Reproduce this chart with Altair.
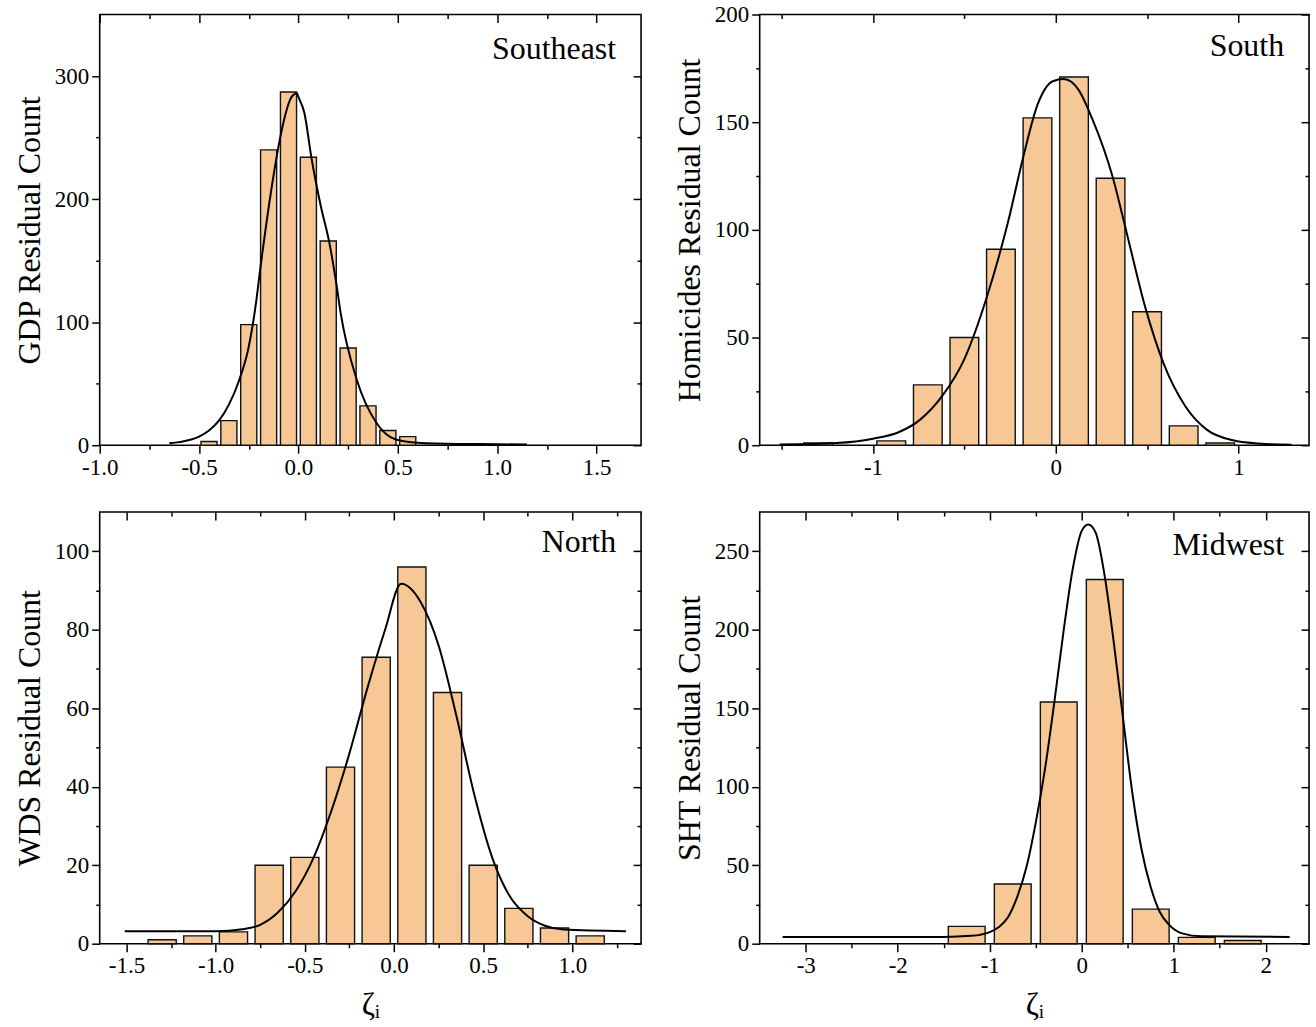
import altair as alt
import pandas as pd

FONT = "Liberation Serif"
FILL = "#F8C796"

# ---------------- data ----------------
# Southeast (GDP)
se_center = [-0.45, -0.35, -0.25, -0.15, -0.05, 0.05, 0.15, 0.25, 0.35, 0.45, 0.55]
se_count = [3, 20, 98, 240, 287, 234, 166, 79, 32, 12, 7]
se_curve_x = [-0.65, -0.6, -0.5, -0.45, -0.4, -0.35, -0.3, -0.25, -0.214, -0.193, -0.112, -0.088,
              -0.03, -0.007, 0.0, 0.03, 0.065, 0.113, 0.155, 0.19, 0.213, 0.294, 0.393, 0.49, 0.6,
              0.8, 1.0, 1.15]
se_curve_y = [1.5, 2.5, 7, 12, 20, 33, 52, 80, 115, 142, 232, 253,
              284, 286, 283, 270, 234, 194, 165, 132, 107, 53, 18, 4.6, 2,
              1, 0.8, 0.5]

# South (Homicides)
so_center = [-1.3, -0.9, -0.7, -0.5, -0.3, -0.1, 0.1, 0.3, 0.5, 0.7, 0.9]
so_count = [1, 2, 28, 50, 91, 152, 171, 124, 62, 9, 1]
so_curve_x = [-1.51, -1.2, -1.0, -0.86, -0.74, -0.62, -0.5, -0.38, -0.26, -0.18, -0.1, -0.016,
              0.044, 0.125, 0.2, 0.31, 0.39, 0.49, 0.59, 0.71, 0.83, 0.97, 1.11, 1.29]
so_curve_y = [0.3, 1, 3, 6, 12, 23, 40, 68, 104, 133, 158, 169,
              170, 165, 151.5, 125, 98, 64, 38, 18, 7, 2.3, 0.8, 0.2]

# North (WDS)
no_center = [-1.3, -1.1, -0.9, -0.7, -0.5, -0.3, -0.1, 0.1, 0.3, 0.5, 0.7, 0.9, 1.1]
no_count = [1, 2, 3, 20, 22, 45, 73, 96, 64, 20, 9, 4, 2]
no_curve_x = [-1.51, -1.0, -0.85, -0.75, -0.65, -0.55, -0.45, -0.35, -0.25, -0.15, -0.05, 0.04,
              0.15, 0.25, 0.35, 0.45, 0.55, 0.65, 0.75, 0.85, 0.95, 1.3]
no_curve_y = [3.2, 3.2, 3.7, 4.8, 8, 13.5, 22, 34, 48.5, 65, 80, 91.7,
              87, 76, 58, 38, 22, 12, 7, 4.5, 3.6, 3.2]

# Midwest (SHT)
mw_center = [-1.25, -0.75, -0.25, 0.25, 0.75, 1.25, 1.75]
mw_count = [11, 38, 154, 232, 22, 4, 2]
mw_curve_x = [-3.25, -1.5, -1.2, -1.0, -0.9, -0.8, -0.7, -0.6, -0.5, -0.4, -0.3, -0.2, -0.1, 0.0,
              0.07, 0.15, 0.25, 0.35, 0.45, 0.55, 0.65, 0.75, 0.85, 0.95, 1.1, 1.3, 2.26]
mw_curve_y = [4.3, 4.3, 5, 7.4, 10.6, 17, 30, 49, 77, 111, 153, 198, 238, 263,
              267, 262, 234, 191, 143, 96, 60, 36, 20, 12, 6.4, 4.7, 4.3]


def hyphen(fmt):
    return "replace(format(datum.value, '%s'), '\u2212', '-')" % fmt


def panel(name, ytitle, xtitle, centers, counts, bar_w, cx, cy, xdom, ydom,
          xmaj, xmin, ymaj, ymin, xfmt, w, h, label_y):
    bars = pd.DataFrame({"c": centers, "n": counts})
    bars["x0"] = bars["c"] - bar_w / 2
    bars["x1"] = bars["c"] + bar_w / 2
    bars["base"] = 0
    curve = pd.DataFrame({"x": cx, "y": cy})
    xs = alt.Scale(domain=xdom, nice=False, zero=False)
    ys = alt.Scale(domain=ydom, nice=False, zero=False)

    main_x_axis = alt.Axis(values=xmaj, orient="bottom", tickSize=8, labelExpr=hyphen(xfmt),
                           labelPadding=3, title=xtitle, titlePadding=12,
                           titleFontSize=32, titleFontWeight="normal", labelFlush=False)
    bar_layer = alt.Chart(bars).mark_bar(fill=FILL, stroke="#111111", strokeWidth=1.4).encode(
        x=alt.X("x0:Q", scale=xs, axis=main_x_axis),
        x2="x1:Q",
        y=alt.Y("n:Q", scale=ys,
                axis=alt.Axis(values=ymaj, orient="left", tickSize=8, labelPadding=3,
                              title=ytitle, titlePadding=8, labelFlush=False)),
        y2="base:Q",
    )
    line_layer = alt.Chart(curve).mark_line(color="black", strokeWidth=2,
                                            interpolate="monotone").encode(
        x=alt.X("x:Q", scale=xs,
                axis=alt.Axis(values=xmin, orient="bottom", tickSize=4, labels=False, title=None)),
        y=alt.Y("y:Q", scale=ys,
                axis=alt.Axis(values=ymin, orient="left", tickSize=4, labels=False, title=None)),
    )
    mirror_major = alt.Chart(bars).mark_point(opacity=0).encode(
        x=alt.X("c:Q", scale=xs,
                axis=alt.Axis(values=xmaj, orient="top", tickSize=8, offset=-8, labels=False, title=None)),
        y=alt.Y("n:Q", scale=ys,
                axis=alt.Axis(values=ymaj, orient="right", tickSize=8, offset=-8, labels=False, title=None)),
    )
    mirror_minor = alt.Chart(curve).mark_point(opacity=0).encode(
        x=alt.X("x:Q", scale=xs,
                axis=alt.Axis(values=xmin, orient="top", tickSize=4, offset=-4, labels=False, title=None)),
        y=alt.Y("y:Q", scale=ys,
                axis=alt.Axis(values=ymin, orient="right", tickSize=4, offset=-4, labels=False, title=None)),
    )
    label = alt.Chart(pd.DataFrame({"t": [name]})).mark_text(
        align="right", baseline="alphabetic", font=FONT, fontSize=32, color="black"
    ).encode(x=alt.value(w - 25), y=alt.value(label_y), text="t:N")

    return alt.layer(bar_layer, line_layer, mirror_major, mirror_minor, label).resolve_axis(
        x="independent", y="independent"
    ).properties(width=w, height=h)


p1 = panel("Southeast", "GDP Residual Count", None, se_center, se_count, 0.081,
           se_curve_x, se_curve_y, [-1.0, 1.724], [0, 350],
           [-1.0, -0.5, 0.0, 0.5, 1.0, 1.5], [-0.75, -0.25, 0.25, 0.75, 1.25],
           [0, 100, 200, 300], [50, 150, 250], ".1f", 543, 432, 45)
p2 = panel("South", "Homicides Residual Count", None, so_center, so_count, 0.157,
           so_curve_x, so_curve_y, [-1.62, 1.386], [0, 200],
           [-1, 0, 1], [-1.5, -0.5, 0.5],
           [0, 50, 100, 150, 200], [25, 75, 125, 175], "d", 551, 432, 42)
p3 = panel("North", "WDS Residual Count", "\u03b6\u1d62", no_center, no_count, 0.158,
           no_curve_x, no_curve_y, [-1.65, 1.385], [0, 110],
           [-1.5, -1.0, -0.5, 0.0, 0.5, 1.0], [-1.25, -0.75, -0.25, 0.25, 0.75, 1.25],
           [0, 20, 40, 60, 80, 100], [10, 30, 50, 70, 90], ".1f", 543, 433, 40)
p4 = panel("Midwest", "SHT Residual Count", "\u03b6\u1d62", mw_center, mw_count, 0.4,
           mw_curve_x, mw_curve_y, [-3.5, 2.47], [0, 275],
           [-3, -2, -1, 0, 1, 2], [-2.5, -1.5, -0.5, 0.5, 1.5],
           [0, 50, 100, 150, 200, 250], [25, 75, 125, 175, 225], "d", 551, 433, 43)

chart = alt.vconcat(
    alt.hconcat(p1, p2, spacing=29),
    alt.hconcat(p3, p4, spacing=29),
    spacing=30,
).properties(
    padding={"left": 12, "top": 1, "right": 5, "bottom": 5},
    background="white",
).configure_view(
    stroke="black", strokeWidth=1.6
).configure_axis(
    labelFont=FONT, labelFontSize=23, labelColor="black",
    titleFont=FONT, titleFontSize=32, titleFontWeight="normal", titleColor="black",
    tickColor="black", tickWidth=1.5, domain=False, grid=False,
)

chart.save("out.html", embed_options={"renderer": "svg", "actions": False})
